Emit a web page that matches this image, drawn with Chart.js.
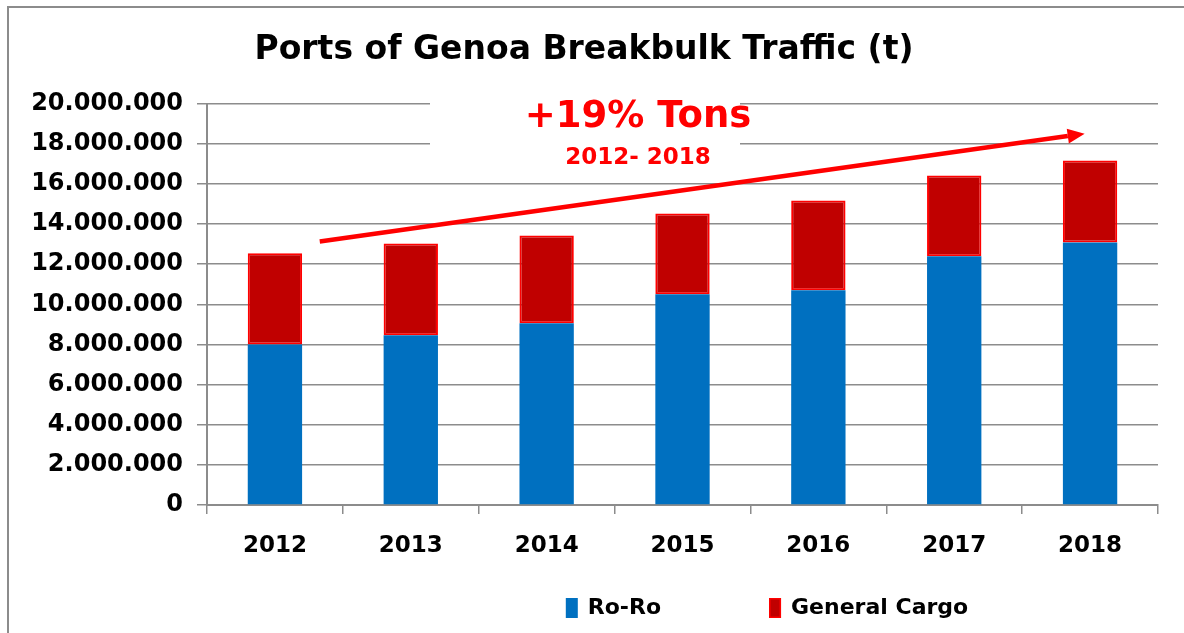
<!DOCTYPE html>
<html>
<head>
<meta charset="utf-8">
<script src="https://cdn.jsdelivr.net/npm/chart.js@4/dist/chart.umd.min.js"></script>
<style>
html,body{margin:0;padding:0;background:#fff;}
#wrap{position:relative;width:1184px;height:633px;}
</style>
</head>
<body>
<div id="wrap"><canvas id="c" width="1184" height="633"></canvas></div>
<script>
const years = ['2012','2013','2014','2015','2016','2017','2018'];
const roRo = [8000000, 8460000, 9050000, 10500000, 10700000, 12390000, 13080000];
const generalCargo = [4540000, 4570000, 4380000, 4030000, 4470000, 4030000, 4080000];
const yTicks = [0, 2000000, 4000000, 6000000, 8000000, 10000000, 12000000, 14000000, 16000000, 18000000, 20000000];
const titleText = 'Ports of Genoa Breakbulk Traffic (t)';
const noteMain = '+19% Tons';
const noteSub = '2012- 2018';
// arrow anchor points in data space: [category index, value]
const arrowFrom = [0.33, 13130000];
const arrowTo = [5.96, 18500000];

const FONT = '"DejaVu Sans", "Open Sans", sans-serif';

function fmt(v){
  return String(Math.round(v)).replace(/\B(?=(\d{3})+(?!\d))/g, '.');
}

const decor = {
  id: 'decor',
  beforeDraw(chart){
    const ctx = chart.ctx;
    ctx.save();
    ctx.fillStyle = '#fff';
    ctx.fillRect(0,0,chart.width,chart.height);
    ctx.strokeStyle = '#8c8c8c';
    ctx.lineWidth = 2;
    ctx.beginPath();
    ctx.moveTo(8, chart.height+5);
    ctx.lineTo(8, 7);
    ctx.lineTo(chart.width+5, 7);
    ctx.stroke();
    ctx.restore();
  },
  beforeDatasetsDraw(chart){
    const ctx = chart.ctx;
    ctx.save();
    ctx.fillStyle = '#fff';
    ctx.fillRect(430, 94, 310, 76);
    ctx.restore();
  },
  afterDatasetsDraw(chart){
    const ctx = chart.ctx;
    const x = chart.scales.x, y = chart.scales.y;
    ctx.save();
    ctx.fillStyle = '#ff0000';
    ctx.textAlign = 'center';
    ctx.textBaseline = 'middle';
    ctx.font = 'bold 37px ' + FONT;
    ctx.fillText(noteMain, 638, 117);
    ctx.font = 'bold 23px ' + FONT;
    ctx.fillText(noteSub, 638, 158);
    // arrow
    const x1 = x.getPixelForValue(arrowFrom[0]), y1 = y.getPixelForValue(arrowFrom[1]);
    const x2 = x.getPixelForValue(arrowTo[0]), y2 = y.getPixelForValue(arrowTo[1]);
    const ang = Math.atan2(y2-y1, x2-x1);
    const hl = 17, hw = 7.5;
    const bx = x2 - hl*Math.cos(ang), by = y2 - hl*Math.sin(ang);
    ctx.strokeStyle = '#ff0000';
    ctx.lineWidth = 4.5;
    ctx.beginPath();
    ctx.moveTo(x1,y1);
    ctx.lineTo(bx,by);
    ctx.stroke();
    ctx.beginPath();
    ctx.moveTo(x2,y2);
    ctx.lineTo(bx + hw*Math.sin(ang), by - hw*Math.cos(ang));
    ctx.lineTo(bx - hw*Math.sin(ang), by + hw*Math.cos(ang));
    ctx.closePath();
    ctx.fill();
    ctx.restore();
  },
  afterDraw(chart){
    // legend drawn from dataset labels/colours
    const ctx = chart.ctx;
    const ds = chart.data.datasets;
    ctx.save();
    ctx.font = 'bold 22px ' + FONT;
    ctx.textBaseline = 'middle';
    ctx.textAlign = 'left';
    const boxW = 12, boxH = 20, gapText = 10, gapItem = 108, cy = 608;
    const widths = ds.map(d => boxW + gapText + ctx.measureText(d.label).width);
    const total = widths.reduce((a,b)=>a+b,0) + gapItem*(ds.length-1);
    let cx = 767 - total/2;
    ds.forEach((d,i)=>{
      ctx.fillStyle = d.backgroundColor;
      ctx.fillRect(cx, cy-boxH/2, boxW, boxH);
      if (d.borderWidth){
        ctx.strokeStyle = d.borderColor; ctx.lineWidth = 1.5;
        ctx.strokeRect(cx+0.75, cy-boxH/2+0.75, boxW-1.5, boxH-1.5);
      }
      ctx.fillStyle = '#000';
      ctx.fillText(d.label, cx + boxW + gapText, cy);
      cx += widths[i] + gapItem;
    });
    ctx.restore();
  }
};

new Chart(document.getElementById('c'), {
  type: 'bar',
  data: {
    labels: years,
    datasets: [
      {label:'Ro-Ro', data: roRo, backgroundColor:'#0070c0', borderColor:'#0070c0', borderWidth:0, barPercentage:0.8, categoryPercentage:0.5},
      {label:'General Cargo', data: generalCargo, backgroundColor:'#c00000', borderColor:'#ff0000', borderWidth:2, borderSkipped:false, barPercentage:0.8, categoryPercentage:0.5}
    ]
  },
  options: {
    responsive:false,
    animation:false,
    layout:{padding:{left:10, right:26, top:0, bottom:78}},
    plugins:{
      title:{display:true, text:titleText, color:'#000', font:{family:FONT, size:33, weight:'bold'}, padding:{top:31, bottom:33}},
      legend:{display:false},
      tooltip:{enabled:false}
    },
    scales:{
      x:{
        stacked:true,
        afterFit(s){ s.height = 50; },
        grid:{display:true, drawOnChartArea:false, drawTicks:true, tickLength:9, color:'#8c8c8c', lineWidth:1.5, offset:true},
        border:{display:true, color:'#8c8c8c', width:2},
        ticks:{color:'#000', font:{family:FONT, size:23, weight:'bold'}, padding:18}
      },
      y:{
        stacked:true,
        min:0, max:20000000,
        afterBuildTicks(s){ s.ticks = yTicks.map(v=>({value:v})); },
        afterFit(s){ s.width = 197; },
        grid:{color:'#8c8c8c', lineWidth:1.5, tickLength:10},
        border:{display:true, color:'#8c8c8c', width:2},
        ticks:{color:'#000', font:{family:FONT, size:24, weight:'bold'}, padding:14, callback:(v)=>fmt(v)}
      }
    }
  },
  plugins:[decor]
});
</script>
</body>
</html>
